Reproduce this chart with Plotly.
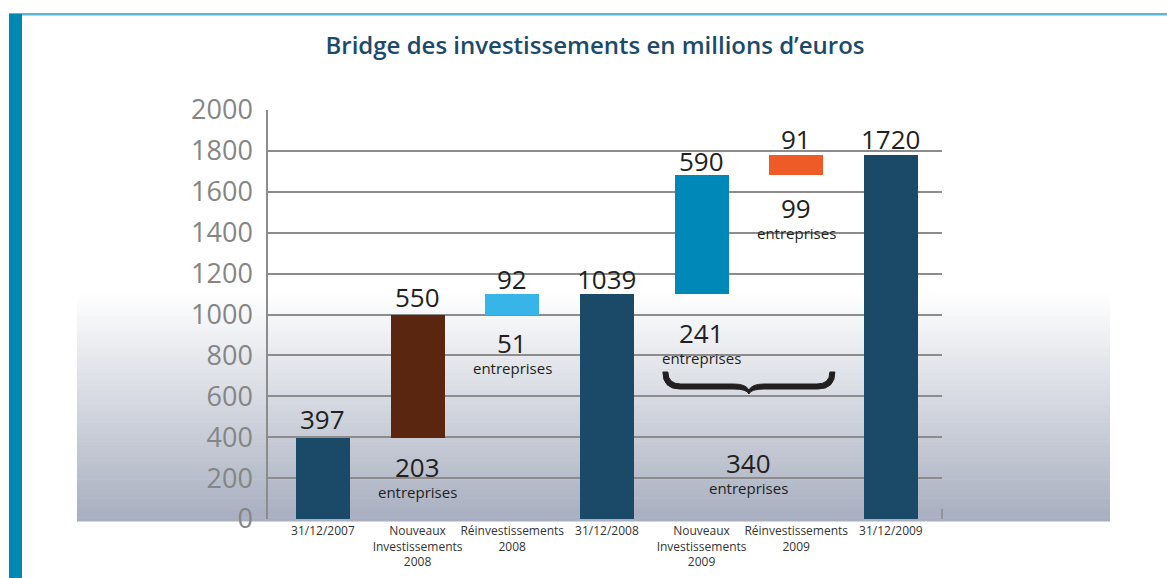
import plotly.graph_objects as go

# ---------------- data ----------------
categories = ["31/12/2007", "Nouveaux<br>Investissements<br>2008", "Réinvestissements<br>2008",
              "31/12/2008", "Nouveaux<br>Investissements<br>2009", "Réinvestissements<br>2009",
              "31/12/2009"]
bar_bottoms = [0, 397, 1000, 0, 1098, 1683, 0]
bar_tops = [397, 1000, 1098, 1098, 1683, 1780, 1780]
value_labels = ["397", "550", "92", "1039", "590", "91", "1720"]
count_bars = [1, 2, 4, 5]
count_labels = ["203", "51", "241", "99"]
total_2009_count = "340"
y_ticks = list(range(0, 2001, 200))

# ---------------- style ----------------
bar_colors = ["#1b4a69", "#5b2610", "#38b5e8", "#1b4a69", "#0088b8", "#ee5b27", "#1b4a69"]
value_shift = [19, 18, 15, 15, 14, 16, 16]
count_shift = [29, 28, 39, 33]
text_color = "#231f20"
grid_color = "#8c8c8c"
W, H = 1167, 578
L, R, T, B = 268, 225, 110, 59
X_RANGE = [-0.58, 6.54]
Y_RANGE = [0, 2000]

def px_x(p):
    return (p - L) / (W - L - R)

def px_y(p):
    return (H - B - p) / (H - T - B)

x_pos = list(range(len(categories)))
heights = [t - b for t, b in zip(bar_tops, bar_bottoms)]

fig = go.Figure()
fig.add_trace(go.Bar(x=x_pos, y=heights, base=bar_bottoms, marker=dict(color=bar_colors, line=dict(width=0)),
                     width=0.57, hoverinfo="skip", showlegend=False))

annotations = []
for i, (lab, top) in enumerate(zip(value_labels, bar_tops)):
    annotations.append(dict(x=x_pos[i], y=top, text=lab, showarrow=False, xref="x", yref="y",
                            yanchor="middle", yshift=value_shift[i],
                            font=dict(family="Open Sans", size=26, color=text_color)))
for k, (bi, lab) in enumerate(zip(count_bars, count_labels)):
    annotations.append(dict(x=x_pos[bi], y=bar_bottoms[bi], text=lab, showarrow=False, xref="x", yref="y",
                            yanchor="middle", yshift=-count_shift[k],
                            font=dict(family="Open Sans", size=26, color=text_color)))
    annotations.append(dict(x=x_pos[bi], y=bar_bottoms[bi], text="entreprises", showarrow=False, xref="x", yref="y",
                            yanchor="middle", yshift=-count_shift[k] - 25,
                            font=dict(family="Open Sans", size=15, color=text_color)))
mid_2009 = (x_pos[4] + x_pos[5]) / 2
annotations.append(dict(x=mid_2009, y=0, text=total_2009_count, showarrow=False, xref="x", yref="y",
                        yanchor="middle", yshift=56, font=dict(family="Open Sans", size=26, color=text_color)))
annotations.append(dict(x=mid_2009, y=0, text="entreprises", showarrow=False, xref="x", yref="y",
                        yanchor="middle", yshift=31, font=dict(family="Open Sans", size=15, color=text_color)))

shapes = []
# gradient background band
g_top, g_bot, g_left, g_right = 293, 521, 77, 1110
n = 60
c0 = (255, 255, 255)
c1 = (167, 174, 191)
for s in range(n):
    f = (s + 0.5) / n
    col = tuple(round(a + (b - a) * f) for a, b in zip(c0, c1))
    y0 = g_top + (g_bot - g_top) * s / n
    y1 = g_top + (g_bot - g_top) * (s + 1) / n + 0.6
    shapes.append(dict(type="rect", xref="paper", yref="paper", x0=px_x(g_left), x1=px_x(g_right),
                       y0=px_y(y1), y1=px_y(y0), line=dict(width=0),
                       fillcolor="rgb(%d,%d,%d)" % col, layer="below"))
# frame decorations
shapes.append(dict(type="rect", xref="paper", yref="paper", x0=px_x(9), x1=px_x(1167), y0=px_y(15.5), y1=px_y(13),
                   line=dict(width=0), fillcolor="#5ab7d8", layer="above"))
shapes.append(dict(type="rect", xref="paper", yref="paper", x0=px_x(9), x1=px_x(22), y0=px_y(578), y1=px_y(14),
                   line=dict(width=0), fillcolor="#0088b5", layer="above"))
# small end tick on x axis
shapes.append(dict(type="line", xref="paper", yref="y", x0=1, x1=1, y0=0, y1=50,
                   line=dict(color=grid_color, width=1.5), layer="above"))

# brace over the 2009 group (filled, tapered), defined as pixel offsets from its tip
ux = (X_RANGE[1] - X_RANGE[0]) / (W - L - R)   # data units per px (x)
uy = (Y_RANGE[1] - Y_RANGE[0]) / (H - T - B)   # data units per px (y)
tip_y = 0 + (519 - 394) * uy
half = 86
pts_outer = [(-half, -22), ("Q", -half, -5, -half + 17, -5), ("L", -15, -5), ("Q", -2, -5, 0, 0),
             ("Q", 2, -5, 15, -5), ("L", half - 17, -5), ("Q", half, -5, half, -22)]
pts_inner = [("L", half - 5, -22), ("Q", half - 5, -10, half - 18, -10), ("L", 15, -10),
             ("Q", 3, -10, 0, -4), ("Q", -3, -10, -15, -10), ("L", -half + 18, -10),
             ("Q", -half + 5, -10, -half + 5, -22)]

def P(dx, dy):
    return "{:.4f},{:.2f}".format(mid_2009 + dx * ux, tip_y - dy * uy * -1 if False else tip_y + (-dy) * uy * -1)

def conv(dx, dy):
    # dy: pixels upward from the tip is negative value here -> convert to data
    return "{:.4f},{:.2f}".format(mid_2009 + dx * ux, tip_y - dy * uy)

segs = ["M " + conv(*pts_outer[0])]
for seg in pts_outer[1:] + pts_inner:
    if seg[0] == "Q":
        segs.append("Q " + conv(seg[1], seg[2]) + " " + conv(seg[3], seg[4]))
    else:
        segs.append("L " + conv(seg[1], seg[2]))
brace = " ".join(segs) + " Z"
shapes.append(dict(type="path", xref="x", yref="y", path=brace, fillcolor=text_color,
                   line=dict(color=text_color, width=1), layer="above"))

fig.update_layout(
    width=W, height=H,
    margin=dict(l=L, r=R, t=T, b=B, pad=0, autoexpand=False),
    paper_bgcolor="white", plot_bgcolor="rgba(0,0,0,0)",
    title=dict(text="Bridge des investissements en millions d’euros", x=595 / W, xanchor="center",
               y=1 - 46 / H, yanchor="middle", automargin=False,
               font=dict(family="Open Sans", size=24, color="#1b4a6b", weight=600)),
    xaxis=dict(range=X_RANGE, tickmode="array", tickvals=x_pos, ticktext=categories,
               showgrid=False, zeroline=False, showline=False, ticks="", tickangle=0, automargin=False,
               ticklabelstandoff=3,
               tickfont=dict(family="Open Sans", size=12, color="#333333"), fixedrange=True),
    yaxis=dict(range=Y_RANGE, tickmode="array", tickvals=y_ticks, showgrid=True, gridcolor=grid_color,
               gridwidth=1.5, zeroline=False, showline=True, linecolor=grid_color, linewidth=1.5,
               ticks="", ticklabelstandoff=8, automargin=False,
               tickfont=dict(family="Open Sans", size=27, color="#858585"), fixedrange=True),
    shapes=shapes, annotations=annotations, bargap=0,
)
fig.write_html("out.html", config={"displayModeBar": False},
               post_script="document.body.style.margin='0px';document.body.style.overflow='hidden';")
